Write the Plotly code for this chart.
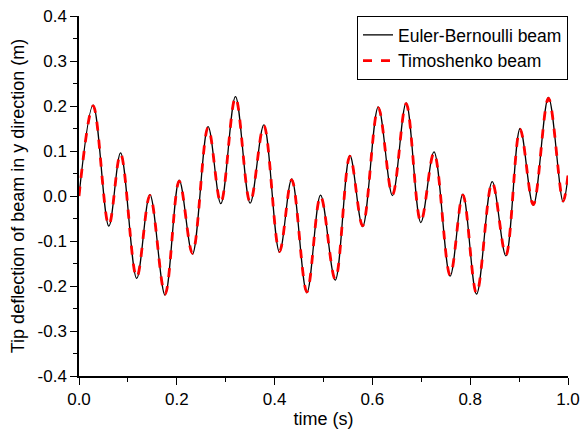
import plotly.graph_objects as go

# Extrema of the tip deflection.
time_s = [
    0.000, 0.029, 0.061, 0.085, 0.118, 0.145, 0.176, 0.205, 0.232, 0.264,
    0.290, 0.320, 0.350, 0.378, 0.410, 0.435, 0.466, 0.494, 0.524, 0.554,
    0.580, 0.612, 0.641, 0.669, 0.699, 0.726, 0.759, 0.785, 0.813, 0.845,
    0.873, 0.902, 0.929, 0.960, 0.990, 1.000,
]
euler_bernoulli = [
    0.000, 0.202, -0.067, 0.096, -0.183, 0.003, -0.220, 0.035, -0.129, 0.154,
    -0.017, 0.221, -0.016, 0.158, -0.125, 0.038, -0.215, 0.002, -0.187, 0.090,
    -0.068, 0.198, 0.001, 0.207, -0.059, 0.098, -0.178, 0.004, -0.218, 0.032,
    -0.133, 0.150, -0.021, 0.219, -0.013, 0.045,
]
timoshenko = [
    0.000, 0.200, -0.065, 0.094, -0.181, 0.001, -0.218, 0.033, -0.127, 0.152,
    -0.015, 0.219, -0.014, 0.156, -0.123, 0.036, -0.213, 0.000, -0.185, 0.088,
    -0.066, 0.196, 0.003, 0.205, -0.057, 0.096, -0.176, 0.002, -0.216, 0.030,
    -0.131, 0.148, -0.019, 0.217, -0.011, 0.047,
]

x_ticks = [0.0, 0.2, 0.4, 0.6, 0.8, 1.0]
y_ticks = [-0.4, -0.3, -0.2, -0.1, 0.0, 0.1, 0.2, 0.3, 0.4]

FAMILY = "Liberation Sans, Arial, sans-serif"
FONT = dict(family=FAMILY, size=17, color="black")
TITLE_FONT = dict(family=FAMILY, size=18, color="black")

fig = go.Figure()

fig.add_trace(
    go.Scatter(
        x=time_s,
        y=euler_bernoulli,
        mode="lines",
        line=dict(color="black", width=1.3, shape="spline"),
        name="Euler-Bernoulli beam",
    )
)
fig.add_trace(
    go.Scatter(
        x=time_s,
        y=timoshenko,
        mode="lines",
        line=dict(color="#ff0000", width=2.8, dash="dash", shape="spline"),
        name="Timoshenko beam",
    )
)

axis_common = dict(
    showline=True,
    linecolor="black",
    linewidth=1.5,
    showgrid=False,
    zeroline=False,
    automargin=False,
    ticks="outside",
    ticklen=7,
    tickwidth=1.2,
    tickcolor="black",
    tickfont=FONT,
    ticklabeloverflow="allow",
)

mirror_common = dict(
    showline=True,
    linecolor="black",
    linewidth=1.5,
    showgrid=False,
    zeroline=False,
    automargin=False,
    ticks="inside",
    ticklen=3,
    tickwidth=1.2,
    tickcolor="black",
    showticklabels=False,
)

fig.update_layout(
    width=580,
    height=429,
    paper_bgcolor="white",
    plot_bgcolor="white",
    font=FONT,
    margin=dict(l=79, r=12, t=16, b=53),
    showlegend=True,
    legend=dict(
        x=1,
        y=1,
        xanchor="right",
        yanchor="top",
        bordercolor="black",
        borderwidth=1,
        bgcolor="white",
        font=dict(family=FAMILY, size=17.5, color="black"),
        tracegroupgap=0,
    ),
    xaxis=dict(
        axis_common,
        range=[0, 1],
        tickvals=x_ticks,
        ticktext=[f"{v:.1f}" for v in x_ticks],
        minor=dict(ticks="outside", dtick=0.1, ticklen=4, tickcolor="black"),
        title=dict(text="time (s)", font=TITLE_FONT, standoff=4),
    ),
    yaxis=dict(
        axis_common,
        range=[-0.4, 0.4],
        tickvals=y_ticks,
        ticktext=[f"{v:.1f}" for v in y_ticks],
        minor=dict(ticks="outside", dtick=0.05, ticklen=4, tickcolor="black"),
        title=dict(text="Tip deflection of beam in y direction (m)", font=TITLE_FONT, standoff=8),
    ),
    xaxis2=dict(
        mirror_common,
        overlaying="x",
        side="top",
        range=[0, 1],
        tickvals=x_ticks,
        minor=dict(ticks="inside", dtick=0.1, ticklen=3, tickcolor="black"),
    ),
    yaxis2=dict(
        mirror_common,
        overlaying="y",
        side="right",
        range=[-0.4, 0.4],
        tickvals=y_ticks,
        minor=dict(ticks="inside", dtick=0.05, ticklen=3, tickcolor="black"),
    ),
)

# Drop the default body margin so the figure fills the window exactly.
fig.write_html(
    "out.html",
    config={"displayModeBar": False},
    post_script="document.body.style.margin = '0';",
)
